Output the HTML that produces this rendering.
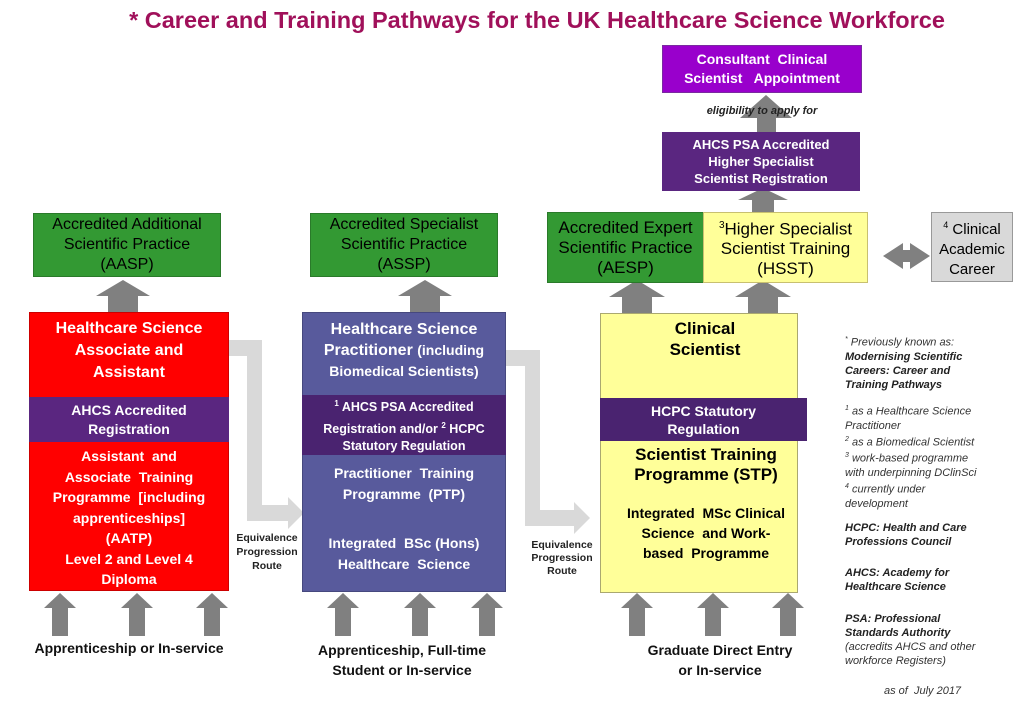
<!DOCTYPE html>
<html><head><meta charset="utf-8">
<style>
body{margin:0;width:1024px;height:709px;background:#fff;position:relative;overflow:hidden;font-family:"Liberation Sans",Arial,sans-serif}
.b{position:absolute;box-sizing:border-box;display:flex;flex-direction:column;align-items:center;justify-content:center;text-align:center}
.t{position:absolute;text-align:center}
.w{color:#fff;font-weight:bold}
svg{position:absolute;left:0;top:0}
.n{position:absolute;left:845px;font-size:11px;font-style:italic;color:#333;line-height:14px}
.n b{color:#222}
</style></head><body>
<svg width="1024" height="709">
<g fill="#d9d9d9">
<path d="M229,340 H262 V505 H288 V497 L304,513 L288,529 V521 H247 V356 H229 Z"/>
<path d="M506,350 H540 V510 H574 V502 L590,518 L574,534 V526 H525 V366 H506 Z"/>
</g>
<g fill="#808080">
<path d="M108,312 V296 H96 L123,280 L150,296 H138 V312 Z"/>
<path d="M410,312 V296 H398 L425,280 L452,296 H440 V312 Z"/>
<path d="M622,313 V297 H609 L637,280 L665,297 H652 V313 Z"/>
<path d="M748,313 V297 H735 L763,280 L791,297 H778 V313 Z"/>
<path d="M757,132 V118 H740 L766,95 L792,118 H776 V132 Z"/>
<path d="M752,212 V200 H738 L763,188 L788,200 H774 V212 Z"/>
<path d="M883,256 L903,243 V250 H910 V243 L930,256 L910,269 V262 H903 V269 Z"/>
</g>
<g fill="#808080">
<path d="M52,636 V608 H44 L60,593 L76,608 H68 V636 Z"/>
<path d="M129,636 V608 H121 L137,593 L153,608 H145 V636 Z"/>
<path d="M204,636 V608 H196 L212,593 L228,608 H220 V636 Z"/>
<path d="M335,636 V608 H327 L343,593 L359,608 H351 V636 Z"/>
<path d="M412,636 V608 H404 L420,593 L436,608 H428 V636 Z"/>
<path d="M479,636 V608 H471 L487,593 L503,608 H495 V636 Z"/>
<path d="M629,636 V608 H621 L637,593 L653,608 H645 V636 Z"/>
<path d="M705,636 V608 H697 L713,593 L729,608 H721 V636 Z"/>
<path d="M780,636 V608 H772 L788,593 L804,608 H796 V636 Z"/>
</g>
</svg>

<div class="t" style="left:0;width:1074px;top:7px;font-size:23.5px;font-weight:bold;color:#a0105a">* Career and Training Pathways for the UK Healthcare Science Workforce</div>

<div class="b" style="left:33px;top:213px;width:188px;height:64px;background:#339933;border:1px solid #2a7a2a;font-size:16px;line-height:20px">Accredited Additional<br>Scientific Practice<br>(AASP)</div>
<div class="b" style="left:310px;top:213px;width:188px;height:64px;background:#339933;border:1px solid #2a7a2a;font-size:16px;line-height:20px">Accredited Specialist<br>Scientific Practice<br>(ASSP)</div>
<div class="b" style="left:547px;top:212px;width:157px;height:71px;background:#339933;border:1px solid #2a7a2a;font-size:17px;line-height:20px">Accredited Expert<br>Scientific Practice<br>(AESP)</div>
<div class="b" style="left:703px;top:212px;width:165px;height:71px;background:#ffff99;border:1px solid #c8c070;font-size:17px;line-height:20px"><span><sup style="font-size:10px">3</sup>Higher Specialist</span>Scientist Training<br>(HSST)</div>
<div class="b" style="left:931px;top:212px;width:82px;height:70px;background:#d9d9d9;border:1px solid #999;font-size:15px;line-height:20px"><span><sup style="font-size:9px">4</sup> Clinical</span>Academic<br>Career</div>

<div class="b w" style="left:662px;top:45px;width:200px;height:48px;background:#9900cc;border:1px solid #7a2aa0;font-size:14px;line-height:19px">Consultant&nbsp; Clinical<br>Scientist&nbsp;&nbsp; Appointment</div>
<div class="t" style="left:662px;width:200px;top:105px;font-size:11px;font-weight:bold;font-style:italic;color:#222">eligibility to apply for</div>
<div class="b w" style="left:662px;top:132px;width:198px;height:59px;background:#5a2680;font-size:13px;line-height:17px">AHCS PSA Accredited<br>Higher Specialist<br>Scientist Registration</div>

<div class="b" style="left:29px;top:312px;width:200px;height:279px;background:#ff0000;border:1px solid #c00"></div>
<div class="t w" style="left:29px;width:200px;top:318px;font-size:16px;line-height:22px">Healthcare Science<br>Associate and<br>Assistant</div>
<div class="b w" style="left:29px;top:397px;width:200px;height:45px;background:#5a2680;font-size:14px;line-height:19px">AHCS Accredited<br>Registration</div>
<div class="t w" style="left:29px;width:200px;top:446px;font-size:14px;line-height:20.5px">Assistant&nbsp; and<br>Associate&nbsp; Training<br>Programme&nbsp; [including<br>apprenticeships]<br>(AATP)<br>Level 2 and Level 4<br>Diploma</div>

<div class="b" style="left:302px;top:312px;width:204px;height:280px;background:#585a9c;border:1px solid #46487e"></div>
<div class="t w" style="left:302px;width:204px;top:319px;font-size:16px;line-height:21px">Healthcare Science<br>Practitioner <span style="font-size:14px">(including<br>Biomedical Scientists)</span></div>
<div class="b w" style="left:302px;top:395px;width:204px;height:60px;background:#4a2370;font-size:12.5px;line-height:17px"><span><sup style="font-size:8px">1</sup> AHCS PSA Accredited</span><span>Registration and/or <sup style="font-size:8px">2</sup> HCPC</span>Statutory Regulation</div>
<div class="t w" style="left:302px;width:204px;top:463px;font-size:14px;line-height:21px">Practitioner&nbsp; Training<br>Programme&nbsp; (PTP)</div>
<div class="t w" style="left:302px;width:204px;top:533px;font-size:14px;line-height:21px">Integrated&nbsp; BSc (Hons)<br>Healthcare&nbsp; Science</div>

<div class="t" style="left:232px;width:70px;top:531px;font-size:10.5px;font-weight:bold;line-height:14px;color:#222">Equivalence<br>Progression<br>Route</div>
<div class="t" style="left:522px;width:80px;top:539px;font-size:10.5px;font-weight:bold;line-height:13px;color:#222">Equivalence<br>Progression<br>Route</div>

<div class="b" style="left:600px;top:313px;width:198px;height:280px;background:#ffff99;border:1px solid #aaa870"></div>
<div class="t" style="left:600px;width:210px;top:318px;font-size:17px;font-weight:bold;line-height:21px;color:#000">Clinical<br>Scientist</div>
<div class="b w" style="left:600px;top:398px;width:207px;height:43px;background:#4a2370;font-size:14px;line-height:18px">HCPC Statutory<br>Regulation</div>
<div class="t" style="left:600px;width:212px;top:445px;font-size:17px;font-weight:bold;line-height:20px;color:#000">Scientist Training<br>Programme (STP)</div>
<div class="t" style="left:600px;width:212px;top:503px;font-size:14px;font-weight:bold;line-height:20px;color:#000">Integrated&nbsp; MSc Clinical<br>Science&nbsp; and Work-<br>based&nbsp; Programme</div>

<div class="t" style="left:0;width:258px;top:640px;font-size:14px;font-weight:bold;color:#111">Apprenticeship or In-service</div>
<div class="t" style="left:290px;width:224px;top:640px;font-size:14px;font-weight:bold;line-height:20px;color:#111">Apprenticeship, Full-time<br>Student or In-service</div>
<div class="t" style="left:610px;width:220px;top:640px;font-size:14px;font-weight:bold;line-height:20px;color:#111">Graduate Direct Entry<br>or In-service</div>

<div class="n" style="top:333px"><sup style="font-size:7px">*</sup> Previously known as:<br><b>Modernising Scientific<br>Careers: Career and<br>Training Pathways</b></div>
<div class="n" style="top:402px"><sup style="font-size:7px">1</sup> as a Healthcare Science<br>Practitioner<br><sup style="font-size:7px">2</sup> as a Biomedical Scientist<br><sup style="font-size:7px">3</sup> work-based programme<br>with underpinning DClinSci<br><sup style="font-size:7px">4</sup> currently under<br>development</div>
<div class="n" style="top:521px"><b>HCPC: Health and Care<br>Professions Council</b></div>
<div class="n" style="top:566px"><b>AHCS: Academy for<br>Healthcare Science</b></div>
<div class="n" style="top:612px"><b>PSA: Professional<br>Standards Authority</b><br>(accredits AHCS and other<br>workforce Registers)</div>
<div class="n" style="top:684px;left:884px;font-style:italic">as of&nbsp; July 2017</div>
</body></html>
